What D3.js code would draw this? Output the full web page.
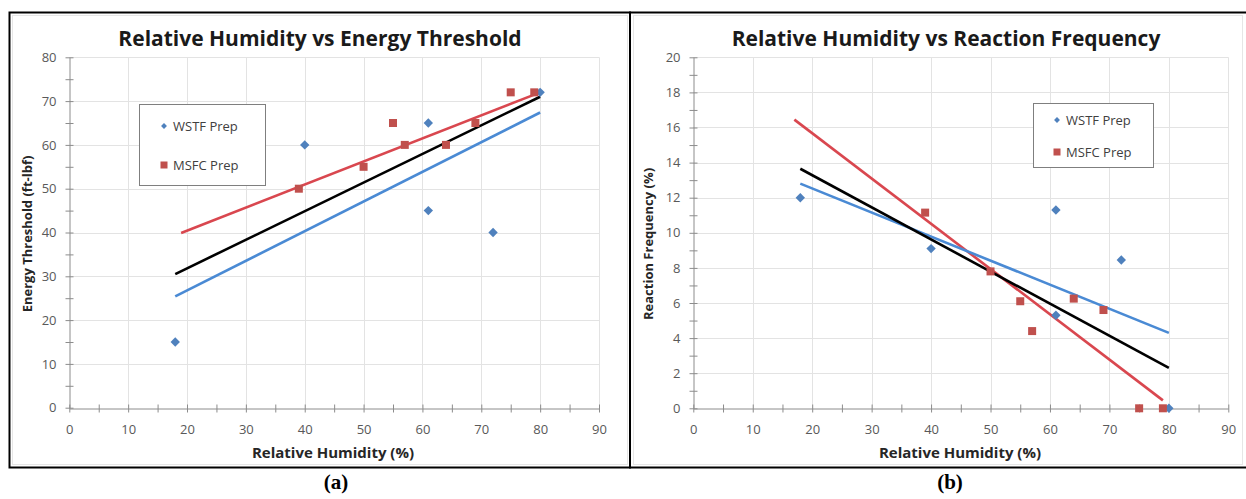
<!DOCTYPE html>
<html>
<head>
<meta charset="utf-8">
<script src="https://cdn.jsdelivr.net/npm/d3@7/dist/d3.min.js"></script>
<style>
  html, body { margin: 0; padding: 0; background: #fff; }
  svg { display: block; }
  text { font-family: "Open Sans", Lato, sans-serif; }
</style>
</head>
<body>
<svg id="fig" width="1246" height="499"></svg>
<script>
// ---- Data -------------------------------------------------------------
const seriesNames = ["WSTF Prep", "MSFC Prep"];
const humidityTicks = [0, 10, 20, 30, 40, 50, 60, 70, 80, 90];
const energyTicks = [0, 10, 20, 30, 40, 50, 60, 70, 80];
const frequencyTicks = [0, 2, 4, 6, 8, 10, 12, 14, 16, 18, 20];

// (a) Energy threshold (ft-lbf) vs relative humidity (%)
const wstfHumidityA = [18, 40, 61, 61, 72, 80];
const wstfEnergy    = [15, 60, 65, 45, 40, 72];
const msfcHumidityA = [39, 50, 55, 57, 64, 69, 75, 79];
const msfcEnergy    = [50, 55, 65, 60, 60, 65, 72, 72];
// linear trend lines: [x, y] endpoints
const wstfTrendA = [[18, 25.4], [80, 67.4]];
const msfcTrendA = [[19, 39.9], [80, 72.0]];
const allTrendA  = [[18, 30.5], [80, 71.0]];

// (b) Reaction frequency (%) vs relative humidity (%)
const wstfHumidityB = [18, 40, 61, 61, 72, 80];
const wstfFrequency = [12.0, 9.1, 11.3, 5.3, 8.45, 0];
const msfcHumidityB = [39, 50, 55, 57, 64, 69, 75, 79];
const msfcFrequency = [11.15, 7.8, 6.1, 4.4, 6.25, 5.6, 0, 0];
const wstfTrendB = [[18, 12.8], [80, 4.3]];
const msfcTrendB = [[17, 16.45], [79, 0.45]];
const allTrendB  = [[18, 13.65], [80, 2.3]];

// ---- Styling ----------------------------------------------------------
const BLUE = "#4f81bd", RED = "#c0504d";
const BLUE_LINE = "#4a8ad4", RED_LINE = "#d9474f";
const GRID = "#e3e3e3", AXIS = "#8c8c8c", TICK_TEXT = "#595959";

const svg = d3.select("#fig");

// outer frames of the two panels
svg.append("rect").attr("x", 9.5).attr("y", 12.5).attr("width", 620.5).attr("height", 455)
  .attr("fill", "none").attr("stroke", "#000").attr("stroke-width", 2);
svg.append("rect").attr("x", 630).attr("y", 12.5).attr("width", 620).attr("height", 455)
  .attr("fill", "none").attr("stroke", "#000").attr("stroke-width", 2);
// faint chart-area borders
svg.append("rect").attr("x", 12.5).attr("y", 15.5).attr("width", 615).attr("height", 449)
  .attr("fill", "none").attr("stroke", "#e6e6e6").attr("stroke-width", 1);
svg.append("rect").attr("x", 633.5).attr("y", 15.5).attr("width", 609).attr("height", 449)
  .attr("fill", "none").attr("stroke", "#e6e6e6").attr("stroke-width", 1);

function panel(cfg) {
  const g = svg.append("g");
  const x = d3.scaleLinear().domain([0, 90]).range([cfg.x0, cfg.x1]);
  const y = d3.scaleLinear().domain([cfg.yTicks[0], cfg.yTicks[cfg.yTicks.length - 1]])
    .range([cfg.y0, cfg.y1]);

  // gridlines
  g.append("g").selectAll("line").data(cfg.yTicks.slice(1)).join("line")
    .attr("x1", cfg.x0).attr("x2", cfg.x1)
    .attr("y1", d => Math.round(y(d)) + 0.5).attr("y2", d => Math.round(y(d)) + 0.5)
    .attr("stroke", GRID);
  g.append("g").selectAll("line").data(humidityTicks.slice(1)).join("line")
    .attr("x1", d => Math.round(x(d)) + 0.5).attr("x2", d => Math.round(x(d)) + 0.5)
    .attr("y1", cfg.y0).attr("y2", cfg.y1)
    .attr("stroke", GRID);

  // axes with crossing tick marks (major + minor)
  const xMinor = d3.range(0, 90.01, 5);
  const yStep = cfg.yTicks[1] - cfg.yTicks[0];
  const yMinor = d3.range(cfg.yTicks[0], cfg.yTicks[cfg.yTicks.length - 1] + 0.001, yStep / 2);
  const xAxis = d3.axisBottom(x).tickValues(xMinor).tickSize(4).tickSizeOuter(0)
    .tickFormat(d => humidityTicks.includes(d) ? d : "");
  const yAxis = d3.axisLeft(y).tickValues(yMinor).tickSize(4).tickSizeOuter(0)
    .tickFormat(d => cfg.yTicks.includes(+d.toFixed(3)) ? d : "");

  const gx = g.append("g").attr("transform", `translate(0,${Math.round(cfg.y0) + 0.5})`).call(xAxis);
  const gy = g.append("g").attr("transform", `translate(${Math.round(cfg.x0) + 0.5},0)`).call(yAxis);
  [gx, gy].forEach(a => {
    a.select(".domain").attr("stroke", AXIS);
    a.selectAll(".tick line").attr("stroke", AXIS);
    a.selectAll(".tick text").attr("fill", TICK_TEXT).attr("font-size", 13)
      .style("font-family", "'Open Sans', sans-serif");
  });
  gx.selectAll(".tick line").attr("y1", -4).attr("y2", 4);
  gx.selectAll(".tick text").attr("y", 16);
  gy.selectAll(".tick line").attr("x1", -4).attr("x2", 4);
  gy.selectAll(".tick text").attr("x", -13);

  // trend lines
  const line = d3.line().x(d => x(d[0])).y(d => y(d[1]));
  [[cfg.msfcTrend, RED_LINE], [cfg.wstfTrend, BLUE_LINE], [cfg.allTrend, "#000"]].forEach(([d, c]) => {
    g.append("path").attr("d", line(d)).attr("fill", "none")
      .attr("stroke", c).attr("stroke-width", 2.6);
  });

  // markers
  const diamond = d3.symbol().type(d3.symbolDiamond2).size(56);
  g.append("g").selectAll("path").data(cfg.wstfX.map((v, i) => [v, cfg.wstfY[i]])).join("path")
    .attr("d", diamond)
    .attr("transform", d => `translate(${x(d[0])},${y(d[1])})`)
    .attr("fill", BLUE);
  g.append("g").selectAll("rect").data(cfg.msfcX.map((v, i) => [v, cfg.msfcY[i]])).join("rect")
    .attr("x", d => x(d[0]) - 4).attr("y", d => y(d[1]) - 4)
    .attr("width", 8).attr("height", 8)
    .attr("fill", RED);

  // title and axis titles
  g.append("text").attr("x", cfg.titleX).attr("y", 46).attr("text-anchor", "middle")
    .attr("font-size", 21).attr("font-weight", "bold").attr("fill", "#1a1a1a").text(cfg.title);
  g.append("text").attr("x", cfg.xLabelX).attr("y", 458).attr("text-anchor", "middle")
    .attr("font-size", 15).attr("font-weight", "bold").attr("fill", "#262626")
    .text("Relative Humidity (%)");
  g.append("text").attr("transform", `translate(${cfg.yLabelX},${cfg.yLabelY}) rotate(-90)`)
    .attr("text-anchor", "middle").attr("font-size", 13).attr("font-weight", "bold")
    .attr("fill", "#262626").text(cfg.yLabel);

  // legend
  const L = cfg.legend;
  g.append("rect").attr("x", L.x + 0.5).attr("y", L.y + 0.5).attr("width", L.w).attr("height", L.h)
    .attr("fill", "#fff").attr("stroke", "#7f7f7f");
  g.append("path").attr("d", d3.symbol().type(d3.symbolDiamond2).size(22))
    .attr("transform", `translate(${L.mx},${L.y + L.r1})`).attr("fill", BLUE);
  g.append("rect").attr("x", L.mx - 3.5).attr("y", L.y + L.r2 - 3.5).attr("width", 7).attr("height", 7)
    .attr("fill", RED);
  seriesNames.forEach((s, i) => {
    g.append("text").attr("x", L.mx + 9).attr("y", L.y + (i ? L.r2 : L.r1) + 5)
      .attr("font-size", 13).attr("fill", "#404040").text(s);
  });
}

panel({
  x0: 69.3, x1: 599, y0: 407.7, y1: 57.3, yTicks: energyTicks,
  wstfX: wstfHumidityA, wstfY: wstfEnergy, msfcX: msfcHumidityA, msfcY: msfcEnergy,
  wstfTrend: wstfTrendA, msfcTrend: msfcTrendA, allTrend: allTrendA,
  title: "Relative Humidity vs Energy Threshold", titleX: 320,
  xLabelX: 333, yLabel: "Energy Threshold (ft-lbf)", yLabelX: 32, yLabelY: 234,
  legend: { x: 139, y: 104, w: 126, h: 81, mx: 164, r1: 22, r2: 61 }
});

panel({
  x0: 693.3, x1: 1228.3, y0: 408.3, y1: 57.3, yTicks: frequencyTicks,
  wstfX: wstfHumidityB, wstfY: wstfFrequency, msfcX: msfcHumidityB, msfcY: msfcFrequency,
  wstfTrend: wstfTrendB, msfcTrend: msfcTrendB, allTrend: allTrendB,
  title: "Relative Humidity vs Reaction Frequency", titleX: 946,
  xLabelX: 960, yLabel: "Reaction Frequency (%)", yLabelX: 653, yLabelY: 244,
  legend: { x: 1033, y: 103, w: 120, h: 64, mx: 1057, r1: 17, r2: 49 }
});

// panel captions
svg.append("text").attr("x", 336).attr("y", 489).attr("text-anchor", "middle")
  .attr("font-size", 21).attr("font-weight", "bold")
  .style("font-family", "'Liberation Serif', 'Times New Roman', serif").text("(a)");
svg.append("text").attr("x", 950).attr("y", 489).attr("text-anchor", "middle")
  .attr("font-size", 21).attr("font-weight", "bold")
  .style("font-family", "'Liberation Serif', 'Times New Roman', serif").text("(b)");
</script>
</body>
</html>
